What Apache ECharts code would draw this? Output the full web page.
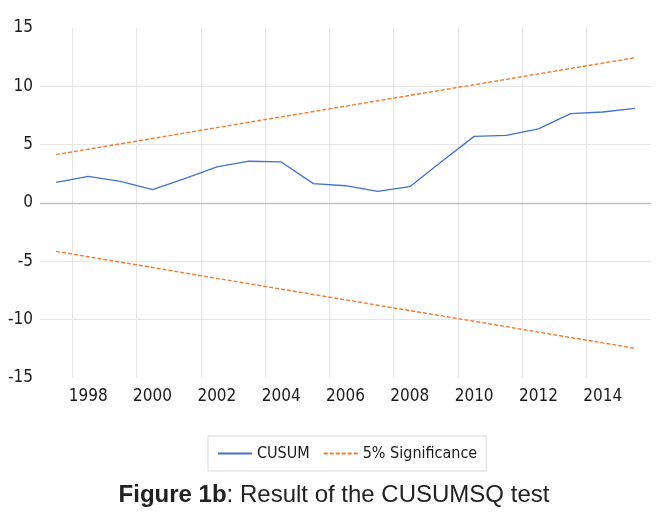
<!DOCTYPE html>
<html>
<head>
<meta charset="utf-8">
<script src="https://cdn.jsdelivr.net/npm/echarts@6/dist/echarts.min.js"></script>
<style>
html,body{margin:0;padding:0;background:#fff;}
#chart{width:668px;height:519px;}
</style>
</head>
<body>
<div id="chart"></div>
<script>
var years = ['1997','1998','1999','2000','2001','2002','2003','2004','2005','2006','2007','2008','2009','2010','2011','2012','2013','2014','2015'];
var cusum = [1.77, 2.28, 1.85, 1.14, 2.08, 3.10, 3.58, 3.52, 1.66, 1.48, 1.00, 1.40, 3.57, 5.71, 5.80, 6.35, 7.66, 7.80, 8.11];
var upper = [4.15, 4.61, 5.07, 5.53, 6.00, 6.46, 6.92, 7.38, 7.84, 8.30, 8.76, 9.22, 9.68, 10.14, 10.60, 11.07, 11.53, 11.99, 12.45];
var lower = [-4.15, -4.61, -5.07, -5.53, -6.00, -6.46, -6.92, -7.38, -7.84, -8.30, -8.76, -9.22, -9.68, -10.14, -10.60, -11.07, -11.53, -11.99, -12.45];
var yTicks = {min: -15, max: 15, step: 5};

var labelFont = '"Liberation Sans Narrow", "Arial Narrow", "DejaVu Sans Condensed", "Liberation Sans", sans-serif';
var chart = echarts.init(document.getElementById('chart'), null, {renderer: 'canvas'});
var blue = '#4472C4', orange = '#ED7D31';
chart.setOption({
  animation: false,
  backgroundColor: '#fff',
  grid: {left: 40, right: 17, top: 28, bottom: 141, containLabel: false},
  title: {
    text: '{b|Figure 1b}{n|: Result of the CUSUMSQ test}',
    left: 'center', top: 478,
    textStyle: {
      rich: {
        b: {fontFamily: '"Liberation Sans", Arial, sans-serif', fontWeight: 'bold', fontSize: 24, color: '#222'},
        n: {fontFamily: '"Liberation Sans", Arial, sans-serif', fontWeight: 'normal', fontSize: 24, color: '#222'}
      }
    }
  },
  legend: {
    left: 208, top: 436,
    padding: [8, 9, 8, 9],
    borderColor: '#d9d9d9', borderWidth: 1,
    itemWidth: 34, itemHeight: 14, itemGap: 13,
    itemStyle: {opacity: 0},
    textStyle: {fontFamily: labelFont, fontSize: 16, color: '#1a1a1a', lineHeight: 19},
    data: ['CUSUM', '5% Significance']
  },
  xAxis: {
    type: 'category',
    data: years,
    boundaryGap: true,
    axisLine: {show: false, onZero: false},
    axisTick: {show: false},
    axisLabel: {
      interval: function (i) { return i % 2 === 1; },
      fontFamily: labelFont, fontSize: 17, color: '#1a1a1a', margin: 10
    },
    splitLine: {
      show: true,
      showMinLine: true, showMaxLine: false,
      interval: function (i) { return i % 2 === 1; },
      lineStyle: {color: '#e6e6e6', width: 1}
    }
  },
  yAxis: {
    type: 'value',
    min: yTicks.min, max: yTicks.max, interval: yTicks.step,
    axisLine: {show: false},
    axisTick: {show: false},
    axisLabel: {fontFamily: labelFont, fontSize: 17, color: '#1a1a1a', margin: 7},
    splitLine: {show: true, showMinLine: false, showMaxLine: false, lineStyle: {color: '#e6e6e6', width: 1}}
  },
  series: [
    {
      name: 'CUSUM', type: 'line', data: cusum, symbol: 'none',
      lineStyle: {color: blue, width: 1.3}, itemStyle: {color: blue}, z: 4,
      markLine: {
        silent: true, symbol: 'none', label: {show: false},
        lineStyle: {color: '#bfbfbf', width: 1.3, type: 'solid'},
        data: [{yAxis: 0}]
      }
    },
    {
      name: '5% Significance', type: 'line', data: upper, symbol: 'none',
      lineStyle: {color: orange, width: 1.4, type: [4, 2]}, itemStyle: {color: orange}, z: 3
    },
    {
      name: '5% Significance', type: 'line', data: lower, symbol: 'none',
      lineStyle: {color: orange, width: 1.4, type: [4, 2]}, itemStyle: {color: orange}, z: 3
    }
  ]
});
</script>
</body>
</html>
